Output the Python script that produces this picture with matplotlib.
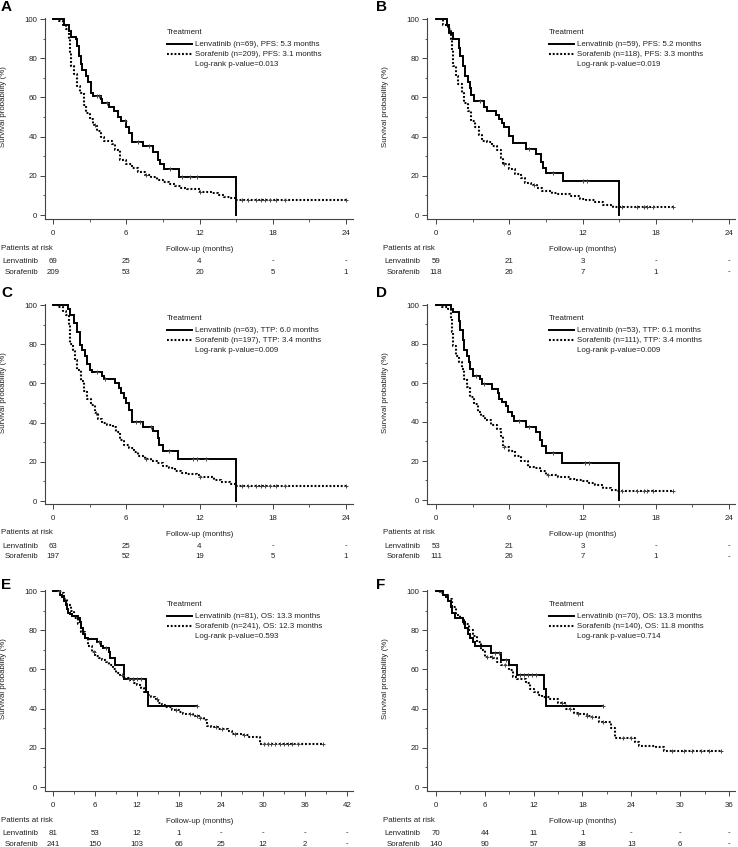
import matplotlib
matplotlib.use("Agg")
import matplotlib.pyplot as plt
import numpy as np
from matplotlib.lines import Line2D
from matplotlib.ticker import MultipleLocator

plt.rcParams['font.family'] = ['Liberation Sans', 'DejaVu Sans']

W, H = 738, 847
FS = 5.7
TXT = '#222222'

# ---- panel A: PFS, whole cohort ----
A_LEN_T = [0, 0.9, 1.3, 1.5, 1.9, 2.0, 2.1, 2.3, 2.4, 2.7, 2.9, 3.1, 3.3, 3.9, 4.0, 4.6, 5.0, 5.3, 5.6,
           6.0, 6.2, 6.5, 7.4, 8.2, 8.6, 8.8, 9.1, 10.3, 15.0]
A_LEN_S = [100, 97, 94, 91, 90, 86, 81, 77, 74, 71, 68, 62, 60.5, 59, 57, 55, 53, 50, 48,
           45, 42, 37, 35, 32, 28, 26, 23.5, 19.5, 0]
A_LEN_C = [3.6, 3.8, 4.4, 5.9, 7.0, 7.9, 9.6, 10.6, 11.2, 11.8]
A_LEN_END = 15.0
A_SOR_T = [0, 0.5, 0.8, 1.1, 1.3, 1.4, 1.5, 1.7, 2.0, 2.2, 2.5, 2.7, 3.0, 3.3, 3.6, 3.9, 4.2, 4.8, 5.1,
           5.5, 6.0, 6.5, 7.0, 7.5, 8.0, 8.5, 9.0, 9.5, 10.0, 10.5, 11.0, 12.0, 13.0, 13.5, 14.0, 14.5, 15.0]
A_SOR_S = [100, 99, 97, 95, 90, 83, 76, 72, 66, 62, 56, 52, 49, 46, 43, 40, 37.5, 36, 33,
           28, 26, 24, 22, 20.5, 19.5, 18, 17, 16, 15, 14, 13.5, 11.7, 11, 10, 9, 8.5, 7.8]
A_SOR_C = [3.4, 7.6, 12.0, 15.5, 16.0, 16.6, 17.0, 17.4, 17.8, 18.3, 19.0, 24.0]
A_SOR_END = 24.0
A_RISK_LEN = ['69', '25', '4', '-', '-']
A_RISK_SOR = ['209', '53', '20', '5', '1']
A_LEG = ['Lenvatinib (n=69), PFS: 5.3 months', 'Sorafenib (n=209), PFS: 3.1 months', 'Log-rank p-value=0.013']

# ---- panel B ----
B_LEN_T = [0, 0.9, 1.1, 1.4, 1.9, 2.0, 2.2, 2.4, 2.6, 2.8, 2.9, 3.1, 3.9, 4.2, 4.9, 5.2, 5.4, 5.6,
           6.0, 6.3, 7.4, 8.2, 8.6, 8.8, 9.0, 10.4, 15.0]
B_LEN_S = [100, 97, 93, 90, 85, 81, 76, 71, 68, 65, 61, 58, 55, 53, 51, 49, 47, 45,
           40.5, 36.5, 33.5, 31, 27, 24, 21.5, 17.3, 0]
B_LEN_C = [3.6, 7.6, 9.6, 12.0, 12.4]
B_LEN_END = 15.0
B_SOR_T = [0, 0.6, 1.0, 1.2, 1.3, 1.4, 1.6, 1.8, 2.1, 2.3, 2.6, 2.9, 3.2, 3.5, 3.8, 4.2, 4.6, 5.0, 5.3,
           5.5, 6.0, 6.5, 7.0, 7.3, 7.8, 8.3, 8.7, 9.5, 10.0, 11.0, 11.8, 12.3, 13.0, 13.7, 14.5]
B_SOR_S = [100, 97, 95, 90, 84, 76, 71, 67, 62, 57, 53, 48, 45, 41, 38, 37, 35, 33, 29,
           26, 23.5, 21, 19, 16.5, 15.5, 14, 12, 11, 10.5, 9.8, 8, 7.5, 6.5, 5, 4.3]
B_SOR_C = [5.6, 8.0, 15.2, 16.5, 17.0, 17.3, 17.8, 19.4]
B_SOR_END = 19.4
B_RISK_LEN = ['59', '21', '3', '-', '-']
B_RISK_SOR = ['118', '26', '7', '1', '-']
B_LEG = ['Lenvatinib (n=59), PFS: 5.2 months', 'Sorafenib (n=118), PFS: 3.3 months', 'Log-rank p-value=0.019']

# ---- panel C: TTP ----
C_LEN_T = [0, 1.2, 1.4, 1.7, 2.0, 2.2, 2.4, 2.6, 2.8, 3.0, 3.2, 4.0, 4.2, 5.1, 5.4, 5.6, 5.8, 6.0,
           6.2, 6.5, 7.4, 8.2, 8.6, 8.7, 9.0, 10.2, 15.0]
C_LEN_S = [100, 98, 95, 91, 86, 79.5, 77, 74, 70, 67, 66, 64, 62, 60, 57.5, 55, 52.5, 50,
           46.5, 40.5, 38, 35.5, 32, 28.5, 25.5, 21.3, 0]
C_LEN_C = [3.6, 4.3, 6.8, 7.1, 8.0, 9.5, 11.5, 11.8, 12.5]
C_LEN_END = 15.0
C_SOR_T = [0, 0.4, 0.8, 1.1, 1.3, 1.4, 1.6, 1.8, 2.0, 2.3, 2.5, 2.8, 3.1, 3.4, 3.7, 4.0, 4.4, 4.9, 5.2,
           5.5, 5.8, 6.2, 6.6, 7.0, 7.5, 8.0, 8.5, 9.0, 9.5, 10.0, 10.5, 11.0, 11.8, 12.0, 13.2, 13.8,
           14.5, 15.0]
C_SOR_S = [100, 99, 97, 95, 90, 80, 77, 72, 67, 61, 56, 52, 49, 45, 42, 40, 39, 37.5, 35,
           31, 28.5, 27, 25, 23, 21.5, 20.5, 19.5, 18, 17, 15.5, 14.5, 14, 13.5, 12, 10.5, 9.5,
           8.5, 7.8]
C_SOR_C = [3.5, 7.6, 12.0, 15.5, 16.0, 16.6, 17.0, 17.4, 17.8, 18.3, 19.0, 24.0]
C_SOR_END = 24.0
C_RISK_LEN = ['63', '25', '4', '-', '-']
C_RISK_SOR = ['197', '52', '19', '5', '1']
C_LEG = ['Lenvatinib (n=63), TTP: 6.0 months', 'Sorafenib (n=197), TTP: 3.4 months', 'Log-rank p-value=0.009']

# ---- panel D ----
D_LEN_T = [0, 1.2, 1.4, 1.9, 2.0, 2.2, 2.3, 2.5, 2.7, 2.8, 3.0, 3.6, 3.8, 4.6, 5.1, 5.2, 5.4, 5.7,
           5.9, 6.2, 6.4, 7.4, 8.2, 8.5, 8.7, 9.0, 10.3, 15.0]
D_LEN_S = [100, 98, 96.5, 92, 87, 82, 77, 74, 71, 67, 63.5, 62, 59.5, 57, 55, 52, 50, 48,
           45, 43, 40.5, 37.5, 35, 31, 27.5, 24, 19.2, 0]
D_LEN_C = [3.3, 3.9, 6.8, 7.6, 9.6, 12.2, 12.5]
D_LEN_END = 15.0
D_SOR_T = [0, 0.5, 1.0, 1.2, 1.3, 1.4, 1.6, 1.9, 2.1, 2.3, 2.5, 2.8, 3.1, 3.4, 3.7, 4.0, 4.5, 5.0, 5.3,
           5.5, 6.0, 6.5, 7.0, 7.5, 8.0, 8.5, 9.0, 10.0, 11.0, 11.5, 12.0, 12.5, 13.0, 13.7, 14.3, 14.8]
D_SOR_S = [100, 99, 98, 93, 86, 79, 74, 71, 67, 62, 58, 53, 49, 45, 43, 41, 38.5, 36.5, 33,
           27, 25, 22.5, 20, 17, 16.5, 15, 13, 12, 11, 10.5, 9.5, 8.5, 7.5, 6, 5, 4.5]
D_SOR_C = [5.6, 9.2, 15.2, 16.5, 17.0, 17.3, 17.8, 19.4]
D_SOR_END = 19.4
D_RISK_LEN = ['53', '21', '3', '-', '-']
D_RISK_SOR = ['111', '26', '7', '1', '-']
D_LEG = ['Lenvatinib (n=53), TTP: 6.1 months', 'Sorafenib (n=111), TTP: 3.4 months', 'Log-rank p-value=0.009']

# ---- panel E: OS ----
E_LEN_T = [0, 1.0, 1.3, 1.6, 1.8, 2.0, 2.2, 2.4, 2.7, 3.5, 3.8, 4.0, 4.3, 4.6, 5.0, 6.3, 6.8, 7.2,
           8.0, 8.2, 8.8, 10.1, 13.3, 13.6]
E_LEN_S = [100, 98, 97, 95, 93, 91, 89, 88.5, 87.5, 86, 84, 81, 78, 76, 75.5, 74, 72, 71,
           69, 66, 62, 55, 48.5, 41.5]
E_LEN_C = [0.8, 6.5, 7.5, 10.8, 11.4, 12.0, 12.6, 20.6]
E_LEN_END = 20.6
E_SOR_T = [0, 1.0, 1.5, 2.0, 2.5, 3.0, 3.5, 4.0, 4.5, 5.0, 5.5, 6.0, 6.5, 7.0, 7.5, 8.0, 8.5, 9.0, 9.5,
           10.0, 11.0, 11.5, 12.0, 12.5, 13.0, 13.5, 14.0, 14.5, 15.0, 15.5, 16.0, 17.0, 18.0, 18.5,
           19.0, 20.0, 21.0, 21.5, 22.0, 22.5, 23.5, 25.0, 25.5, 27.0, 28.0, 29.5]
E_SOR_S = [100, 99, 96, 93, 90, 86, 83, 79, 76, 72, 69, 67, 66, 65, 64, 62, 60, 58, 57,
           55.5, 54.5, 53, 52, 50.5, 48.5, 47, 46, 45, 43, 42, 41, 39.5, 38.5, 37.5,
           37, 36, 35, 34, 31, 30.5, 29.5, 28.5, 27, 26.5, 25.5, 22]
E_SOR_C = [5.8, 9.8, 14.8, 17.5, 19.6, 20.5, 21.0, 23.3, 24.2, 26.0, 27.3, 30.2, 30.7, 31.2, 31.7,
           32.4, 33.0, 33.6, 34.1, 35.0, 38.5]
E_SOR_END = 38.5
E_RISK_LEN = ['81', '53', '12', '1', '-', '-', '-', '-']
E_RISK_SOR = ['241', '150', '103', '66', '25', '12', '2', '-']
E_LEG = ['Lenvatinib (n=81), OS: 13.3 months', 'Sorafenib (n=241), OS: 12.3 months', 'Log-rank p-value=0.593']

# ---- panel F ----
F_LEN_T = [0, 0.9, 1.2, 1.5, 1.8, 2.0, 2.3, 3.3, 3.6, 3.9, 4.2, 4.5, 4.8, 5.2, 6.7, 8.0, 9.0, 10.0, 13.3, 13.5]
F_LEN_S = [100, 98, 97, 95, 92, 89, 86, 84, 81, 78, 76, 74, 72, 72, 68.5, 65, 62, 57, 50, 41.5]
F_LEN_C = [7.3, 7.7, 8.6, 10.3, 10.8, 11.3, 11.8, 12.3, 20.5]
F_LEN_END = 20.5
F_SOR_T = [0, 0.5, 1.0, 1.5, 2.0, 2.5, 3.0, 3.5, 4.0, 4.5, 5.0, 5.5, 6.0, 7.0, 7.5, 8.0, 9.0, 9.5,
           10.0, 11.0, 11.5, 12.0, 12.5, 13.0, 14.0, 15.0, 16.0, 17.0, 17.5, 18.5, 19.0, 20.0, 21.5,
           22.0, 24.5, 25.0, 27.0, 28.0]
F_SOR_S = [100, 99, 98, 96, 92, 88, 86, 83, 80, 77, 74, 70, 66.5, 66, 64, 62, 59.5, 56,
           55, 53, 50, 48.5, 47, 46, 45, 43, 40, 38, 37, 36, 35.5, 33, 30,
           25, 23, 21, 20.5, 18.5]
F_SOR_C = [6.3, 6.9, 8.5, 15.5, 16.5, 17.5, 18.5, 19.2, 20.5, 23.0, 24.0, 29.0, 30.5, 31.5, 32.5, 33.5, 35.0]
F_SOR_END = 35.0
F_RISK_LEN = ['70', '44', '11', '1', '-', '-', '-']
F_RISK_SOR = ['140', '90', '57', '38', '13', '6', '-']
F_LEG = ['Lenvatinib (n=70), OS: 13.3 months', 'Sorafenib (n=140), OS: 11.8 months', 'Log-rank p-value=0.714']

# pixel layout: spine left, x of 0, x of xmax, xmax, spine right, y of 100, y of 0, spine bottom,
# letter x, letter y
LAYOUT = {
    'A': (45, 53, 346, 24, 353, 19, 215, 219, 1, 7),
    'B': (427, 436, 729, 24, 735, 19, 215, 219, 376, 7),
    'C': (45, 53, 346, 24, 353, 305, 501, 504, 1, 293),
    'D': (427, 436, 729, 24, 735, 305, 500, 504, 376, 293),
    'E': (45, 53, 347, 42, 353, 591, 787, 791, 1, 585),
    'F': (427, 436, 729, 36, 735, 591, 787, 791, 376, 585),
}

panels = [
    ('A', A_LEN_T, A_LEN_S, A_LEN_C, A_LEN_END, A_SOR_T, A_SOR_S, A_SOR_C, A_SOR_END, A_RISK_LEN, A_RISK_SOR, A_LEG),
    ('B', B_LEN_T, B_LEN_S, B_LEN_C, B_LEN_END, B_SOR_T, B_SOR_S, B_SOR_C, B_SOR_END, B_RISK_LEN, B_RISK_SOR, B_LEG),
    ('C', C_LEN_T, C_LEN_S, C_LEN_C, C_LEN_END, C_SOR_T, C_SOR_S, C_SOR_C, C_SOR_END, C_RISK_LEN, C_RISK_SOR, C_LEG),
    ('D', D_LEN_T, D_LEN_S, D_LEN_C, D_LEN_END, D_SOR_T, D_SOR_S, D_SOR_C, D_SOR_END, D_RISK_LEN, D_RISK_SOR, D_LEG),
    ('E', E_LEN_T, E_LEN_S, E_LEN_C, E_LEN_END, E_SOR_T, E_SOR_S, E_SOR_C, E_SOR_END, E_RISK_LEN, E_RISK_SOR, E_LEG),
    ('F', F_LEN_T, F_LEN_S, F_LEN_C, F_LEN_END, F_SOR_T, F_SOR_S, F_SOR_C, F_SOR_END, F_RISK_LEN, F_RISK_SOR, F_LEG),
]

SOLID = dict(color='black', lw=1.4, ls='-')
DOTTED = dict(color='black', lw=1.5, ls=(0, (0.9, 0.9)))


def fx(px):
    return px / W


def fy(py):
    return 1 - py / H


def km(ax, t, s, cens, end, style):
    t = list(t)
    s = list(s)
    if t[-1] < end:
        t.append(end)
        s.append(s[-1])
    ax.step(t, s, where='post', zorder=3, solid_joinstyle='miter', **style)
    ct = np.array(cens)
    idx = np.searchsorted(np.array(t), ct, side='right') - 1
    cs = np.array(s)[idx]
    ax.plot(ct, cs, ls='none', marker='+', ms=3.5, mew=0.7, color='#444444', zorder=4)


fig = plt.figure(figsize=(W / 100, H / 100), dpi=100)

for (key, lt, ls_, lc, le, st, ss, sc, se, rl, rs, leg) in panels:
    sl, x0, xm, xmax, sr, y100, y0, sb, lx_, ly = LAYOUT[key]
    xpp = xmax / (xm - x0)
    ypp = 100 / (y0 - y100)
    top = y100 - 1
    ax = fig.add_axes([fx(sl), fy(sb), (sr - sl) / W, (sb - top) / H])
    ax.set_xlim(-(x0 - sl) * xpp, xmax + (sr - xm) * xpp)
    ax.set_ylim(-(sb - y0) * ypp, 100 + (y100 - top) * ypp)

    km(ax, st, ss, sc, se, DOTTED)
    km(ax, lt, ls_, lc, le, SOLID)

    for side in ['top', 'right']:
        ax.spines[side].set_visible(False)
    for side in ['left', 'bottom']:
        ax.spines[side].set_color('#444444')
        ax.spines[side].set_linewidth(0.8)
    ax.set_xticks(np.arange(0, xmax + 0.1, 6))
    ax.xaxis.set_minor_locator(MultipleLocator(3))
    ax.set_yticks(np.arange(0, 101, 20))
    ax.yaxis.set_minor_locator(MultipleLocator(10))
    ax.tick_params(which='major', length=3.6, width=0.7, color='#444444', labelsize=FS,
                   labelcolor=TXT)
    ax.tick_params(which='minor', length=1.8, width=0.6, color='#444444')
    ax.tick_params(axis='x', which='major', pad=4)
    ax.tick_params(axis='y', which='major', pad=2)

    # y label
    fig.text(fx(sl - 41), fy(y100 + 88), 'Survival probability (%)', rotation=90,
             ha='center', va='center', fontsize=FS, color=TXT)
    # panel letter
    fig.text(fx(lx_), fy(ly), key, fontsize=11, fontweight='bold', ha='left', va='center',
             color='black')

    # legend
    lx = fx(sl + 122)
    lx2 = fx(sl + 147)
    tx = fx(sl + 150)
    fig.text(lx, fy(y100 + 13.5), 'Treatment', fontsize=FS, ha='left', va='center', color=TXT)
    for i, (txt, sty) in enumerate(zip(leg, [SOLID, DOTTED, None])):
        yy = fy(y100 + 25 + 10 * i)
        if sty is not None:
            fig.add_artist(Line2D([lx, lx2], [yy, yy], transform=fig.transFigure, **sty))
        fig.text(tx, yy, txt, fontsize=FS, ha='left', va='center', color=TXT)

    # risk table
    fig.text(fx(sl - 44), fy(sb + 29), 'Patients at risk', fontsize=FS, ha='left', va='center', color=TXT)
    fig.text(fx((x0 + xm) / 2), fy(sb + 30.5), 'Follow-up (months)', fontsize=FS, ha='center',
             va='center', color=TXT)
    fig.text(fx(sl - 7), fy(sb + 42), 'Lenvatinib', fontsize=FS, ha='right', va='center', color=TXT)
    fig.text(fx(sl - 7), fy(sb + 53), 'Sorafenib', fontsize=FS, ha='right', va='center', color=TXT)
    ticks = np.arange(0, xmax + 0.1, 6)
    for tk, a, b in zip(ticks, rl, rs):
        px = x0 + tk / xpp
        fig.text(fx(px), fy(sb + 42), a, fontsize=FS, ha='center', va='center', color=TXT)
        fig.text(fx(px), fy(sb + 53), b, fontsize=FS, ha='center', va='center', color=TXT)

fig.savefig('out.png', dpi=100, facecolor='white')
